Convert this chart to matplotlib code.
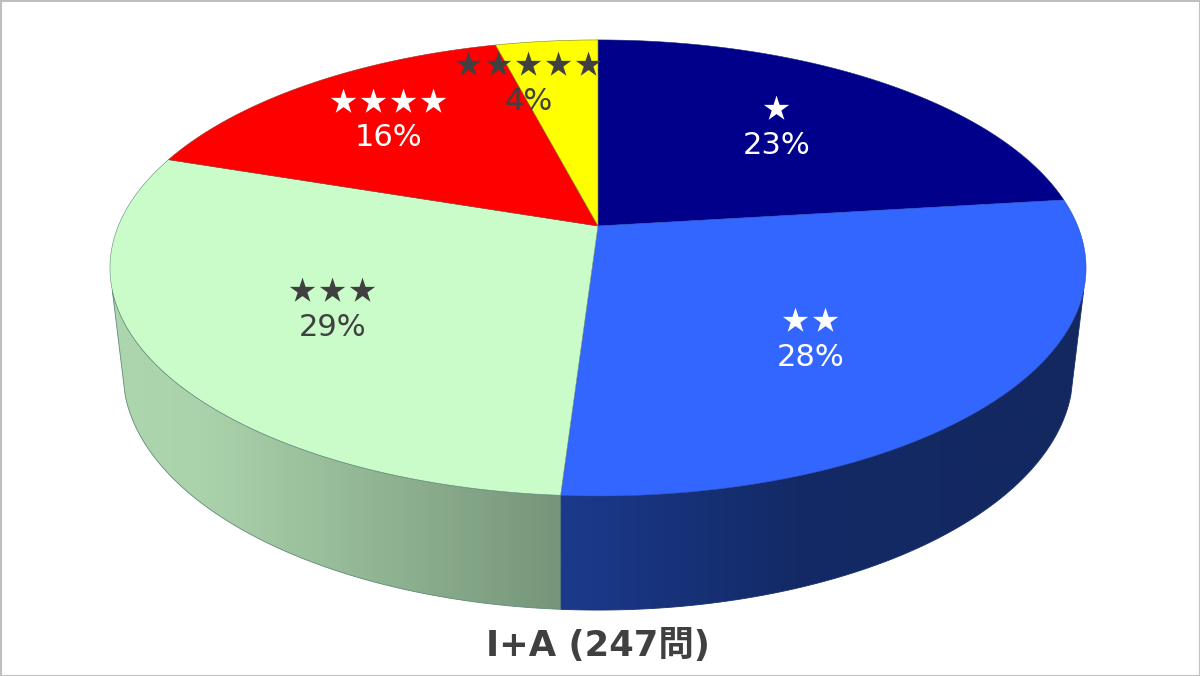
import numpy as np
import matplotlib
matplotlib.use("Agg")
import matplotlib.pyplot as plt
from matplotlib.colors import LinearSegmentedColormap
from matplotlib.patches import Polygon, Rectangle

# question counts per star rating, 247 in total
star_counts = [1, 2, 3, 4, 5]
counts = [57, 69, 72, 39, 10]
title = "I+A (247問)"

top_colors = ["#00008b", "#3366ff", "#c9fcc9", "#ff0000", "#ffff00"]
edge_colors = ["#1a2a80", "#2850c8", "#5f8a78", "#a03030", "#808020"]
text_colors = ["white", "white", "#404040", "white", "#404040"]
# label centre of each slice
label_x = [777, 811, 333, 389, 529]
label_y = [110, 322, 292, 103, 66]

# perspective of top and bottom discs: a, b, c, k
APEX = (598, 226)
TOP = (479.7, 220.3, 0.0, 0.184)
BOTTOM = (464.5, 207.4, -96.0, 0.21)


def project(frac, disc):
    # frac is the share of the circle, clockwise from 12 o'clock
    a, b, c, k = disc
    th = 2 * np.pi * np.asarray(frac)
    X, Y = np.sin(th), np.cos(th)
    den = 1 + k * Y
    return APEX[0] + a * X / den, APEX[1] - (b * Y + c) / den


def wall(ax, top_from, top_to, bot_from, bot_to, stops, edge):
    x1, y1 = project(np.linspace(top_from, top_to, 120), TOP)
    x2, y2 = project(np.linspace(bot_to, bot_from, 120), BOTTOM)
    pts = np.column_stack([np.r_[x1, x2], np.r_[y1, y2]])
    poly = Polygon(pts, closed=True, facecolor="none", edgecolor=edge, lw=0.6, zorder=2)
    ax.add_patch(poly)
    cmap = LinearSegmentedColormap.from_list("w", stops)
    im = ax.imshow(np.linspace(0, 1, 256).reshape(1, -1), cmap=cmap, aspect="auto",
                   extent=(pts[:, 0].min(), pts[:, 0].max(), 620, 100), zorder=1)
    im.set_clip_path(poly)


plt.rcParams["font.family"] = ["DejaVu Sans", "Noto Sans CJK JP"]
fig = plt.figure(figsize=(12, 6.76), dpi=100)
ax = fig.add_axes([0, 0, 1, 1])

total = sum(counts)
edges = np.r_[0, np.cumsum(counts)] / total

# only the two front walls can be seen, they stop where the side silhouette starts
wall(ax, 0.2945, edges[2], 0.2986, edges[2],
     [(0, "#1b3a8c"), (0.45, "#132a66"), (1, "#13285f")], "#1a2f70")
wall(ax, edges[2], 0.7055, edges[2], 0.7014,
     [(0, "#aed6ae"), (0.2, "#abd3ab"), (1, "#76957a")], "#5f8a78")

for i in range(len(counts)):
    x, y = project(np.linspace(edges[i], edges[i + 1], 160), TOP)
    ax.fill(np.r_[APEX[0], x], np.r_[APEX[1], y], facecolor=top_colors[i],
            edgecolor=edge_colors[i], lw=0.4, zorder=3)
    n = star_counts[i]
    for j in range(n):
        ax.text(label_x[i] + (j - (n - 1) / 2) * 30, label_y[i], "★", color=text_colors[i],
                fontsize=19.5, ha="center", va="center",
                family=["Noto Sans CJK JP", "DejaVu Sans"], zorder=5)
    ax.text(label_x[i], label_y[i] + 35, f"{round(100 * counts[i] / total)}%", color=text_colors[i],
            fontsize=22, ha="center", va="center", zorder=5)

ax.text(598, 646, title, color="#404040", fontsize=25.5, fontweight="bold",
        ha="center", va="center")

ax.add_patch(Rectangle((0.5, 0.5), 1199, 675, facecolor="none", edgecolor="#bfbfbf", lw=1.5, zorder=6))
ax.set_xlim(0, 1200)
ax.set_ylim(676, 0)
ax.axis("off")
fig.savefig("out.png", dpi=100)
